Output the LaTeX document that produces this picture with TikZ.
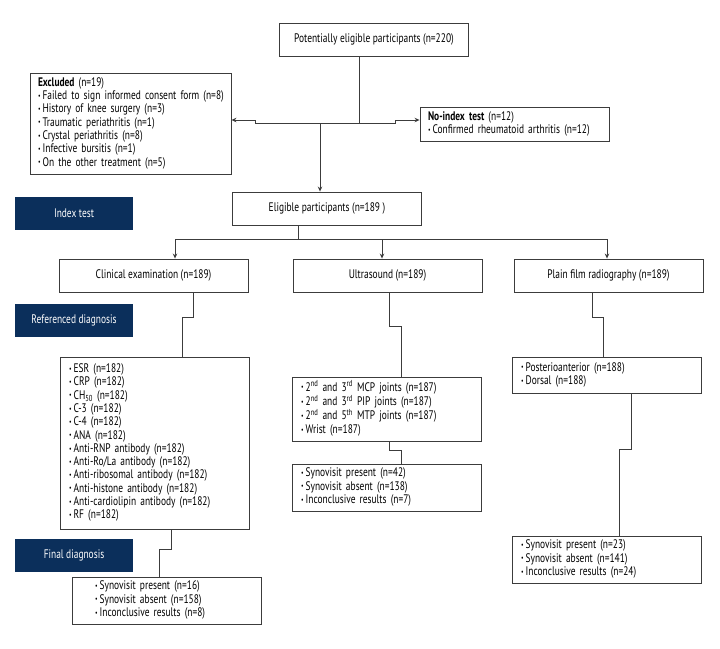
\documentclass[tikz,border=0pt]{standalone}
\usepackage{fontspec}
\setmainfont{PT Sans}[FakeStretch=0.76]
\usetikzlibrary{arrows.meta}
\definecolor{navy}{HTML}{0B2F5B}
\definecolor{edge}{HTML}{3C3C3C}
\newcommand\bul{\raisebox{0.2ex}{\scalebox{0.6}{\textbullet}}\,}
\newcommand\rows[1]{\begin{tabular}{@{}l@{}}#1\end{tabular}}

\begin{document}
\begin{tikzpicture}[x=1pt,y=-1pt,
  >={Stealth[length=5pt,width=4.5pt]},
  box/.style={draw=edge,line width=0.9pt,minimum height=33pt,minimum width=189pt,inner sep=0pt,font=\fontsize{12.4}{13.3}\selectfont},
  list/.style={box,align=left,text width=#1,inner xsep=8pt},
  stage/.style={fill=navy,text=white,minimum width=118pt,minimum height=33pt,inner sep=0pt,font=\fontsize{12.4}{13}\selectfont},
  line/.style={draw=edge,line width=0.9pt}]
\useasboundingbox (0,0) rectangle (720,648);
% boxes
\node[box] (top) at (374,39.5) {Potentially eligible participants (n=220)};
\node[list=185pt,minimum height=101pt] (excl) at (130.5,123.5) {\rows{\textbf{Excluded} (n=19)\\
  \bul Failed to sign informed consent form (n=8)\\
  \bul History of knee surgery (n=3)\\
  \bul Traumatic periathritis (n=1)\\
  \bul Crystal periathritis (n=8)\\
  \bul Infective bursitis (n=1)\\
  \bul On the other treatment (n=5)}};
\node[list=173pt,minimum height=34pt] (noidx) at (514.5,124) {\rows{\textbf{No-index test} (n=12)\\
  \bul Confirmed rheumatoid arthritis (n=12)}};
\node[box] (elig) at (327,208.5) {Eligible participants (n=189 )};
\node[stage] (sidx) at (74,213.5) {Index test};
\node[box] (clin) at (153.5,275.5) {Clinical examination (n=189)};
\node[box] (us) at (387.5,275.5) {Ultrasound (n=189)};
\node[box] (pf) at (608.5,275.5) {Plain film radiography (n=189)};
\node[stage] (sref) at (74,320.5) {Referenced diagnosis};
\node[list=171pt,minimum height=172pt] (esr) at (154.5,443) {\rows{\bul ESR (n=182)\\
  \bul CRP (n=182)\\
  \bul CH\textsubscript{50} (n=182)\\
  \bul C-3 (n=182)\\
  \bul C-4 (n=182)\\
  \bul ANA (n=182)\\
  \bul Anti-RNP antibody (n=182)\\
  \bul Anti-Ro/La antibody (n=182)\\
  \bul Anti-ribosomal antibody (n=182)\\
  \bul Anti-histone antibody (n=182)\\
  \bul Anti-cardiolipin antibody (n=182)\\
  \bul RF (n=182)}};
\node[list=172pt,minimum height=64pt] (mcp) at (387,409) {\rows{\bul 2\textsuperscript{nd} and 3\textsuperscript{rd} MCP joints (n=187)\\
  \bul 2\textsuperscript{nd} and 3\textsuperscript{rd} PIP joints (n=187)\\
  \bul 2\textsuperscript{nd} and 5\textsuperscript{th} MTP joints (n=187)\\
  \bul Wrist (n=187)}};
\node[list=172pt,minimum height=47pt] (ussyn) at (387,487.5) {\rows{\bul Synovisit present (n=42)\\
  \bul Synovisit absent (n=138)\\
  \bul Inconclusive results (n=7)}};
\node[list=172pt,minimum height=36pt] (post) at (607,375) {\rows{\bul Posterioanterior (n=188)\\
  \bul Dorsal (n=188)}};
\node[list=172pt,minimum height=47pt] (pfsyn) at (607,559.5) {\rows{\bul Synovisit present (n=23)\\
  \bul Synovisit absent (n=141)\\
  \bul Inconclusive results (n=24)}};
\node[stage] (sfin) at (74,555.5) {Final diagnosis};
\node[list=144pt,minimum height=47pt] (fin) at (167,600.5) {\rows{\bul Synovisit present (n=16)\\
  \bul Synovisit absent (n=158)\\
  \bul Inconclusive results (n=8)}};
% connectors
\coordinate (jt) at (359,123);
\coordinate (je) at (298,239);
\draw[line] (top.south -| jt) -- (jt);
\draw[line,->] (jt) -- (255,123) -- (255,120) -- (excl.east |- 0,120);
\draw[line,->] (jt) -- (395,123) -- (395,120) -- (noidx.west |- 0,120);
\draw[line,->] (320,123) -- (elig.north -| 320,0);
\draw[line] (elig.south -| je) -- (je);
\draw[line,->] (je) -| (clin.north -| 175,0);
\draw[line,->] (je) -| (us.north -| 382,0);
\draw[line,->] (je) -| (pf.north -| 607,0);
\draw[line] (clin.south -| 193,0) -- (193,317) -- (182,317) -- (esr.north -| 182,0);
\draw[line] (us.south -| 389,0) -- (389,326) -- (401,326) -- (mcp.north -| 401,0);
\draw[line] (mcp.south -| 389,0) -- (389,450) -- (401,450) -- (ussyn.north -| 401,0);
\draw[line] (pf.south -| 592,0) -- (592,317) -- (603,317) -- (post.north -| 603,0);
\draw[line] (post.south -| 631,0) -- (631,449) -- (619,449) -- (pfsyn.north -| 619,0);
\draw[line] (esr.south -| 171,0) -- (171,549) -- (159,549) -- (fin.north -| 159,0);
\end{tikzpicture}
\end{document}
